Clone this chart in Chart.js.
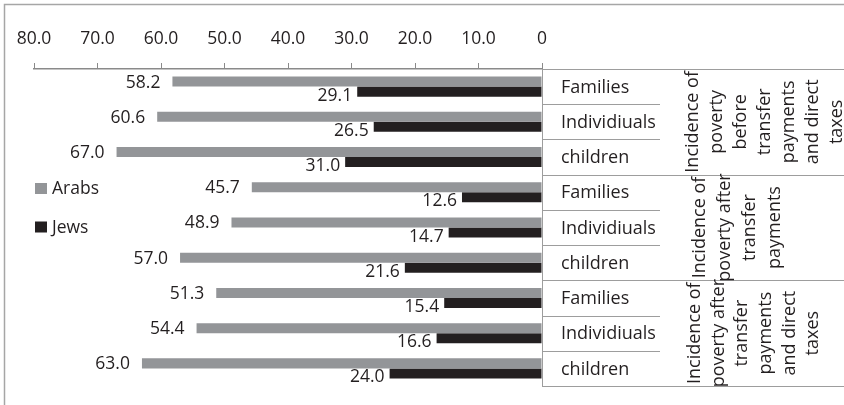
<!DOCTYPE html>
<html>
<head>
<meta charset="utf-8">
<script src="https://cdn.jsdelivr.net/npm/chart.js@4"></script>
<style>
  html, body { margin:0; padding:0; background:#fff; }
  #wrap { width:844px; height:405px; position:relative; }
</style>
</head>
<body>
<div id="wrap"><canvas id="povertyChart"></canvas></div>
<script>
// rows, top to bottom
const rowLabels = ['Families','Individiuals','children','Families','Individiuals','children','Families','Individiuals','children'];
const arabs = [58.2, 60.6, 67.0, 45.7, 48.9, 57.0, 51.3, 54.4, 63.0];
const jews  = [29.1, 26.5, 31.0, 12.6, 14.7, 21.6, 15.4, 16.6, 24.0];
const seriesNames = ['Arabs', 'Jews'];
const groupLabels = [
  ['Incidence of','poverty','before','transfer','payments','and direct','taxes'],
  ['Incidence of','poverty after','transfer','payments'],
  ['Incidence of','poverty after','transfer','payments','and direct','taxes']
];

const FONT = "'Open Sans', sans-serif";
const TXT = '#231f20';
const GRAY = '#939598';
const BLACK = '#231f20';
const LINE = '#9d9d9d';

// value labels next to bar ends
const valueLabels = {
  id:'valueLabels',
  afterDatasetsDraw(chart){
    const ctx = chart.ctx;
    ctx.save();
    ctx.font = '17.5px ' + FONT;
    ctx.fillStyle = TXT;
    ctx.textAlign = 'right';
    ctx.textBaseline = 'middle';
    chart.data.datasets.forEach((ds, di) => {
      chart.getDatasetMeta(di).data.forEach((el, i) => {
        const v = ds.data[i].toFixed(1);
        if (di === 0) ctx.fillText(v, el.x - 12, el.y + 1);
        else ctx.fillText(v, el.x - 5, el.y + 4);
      });
    });
    ctx.restore();
  }
};

// frame, legend, right hand table
const decor = {
  id:'decor',
  afterDraw(chart){
    const ctx = chart.ctx, a = chart.chartArea, y = chart.scales.y;
    const W = chart.width, H = chart.height;
    ctx.save();
    // outer frame (cropped)
    ctx.strokeStyle = '#a6a6a6'; ctx.lineWidth = 1.5;
    ctx.beginPath(); ctx.moveTo(4.5, H); ctx.lineTo(4.5, 4.5); ctx.lineTo(W, 4.5); ctx.stroke();

    // legend
    const cols = [GRAY, BLACK];
    const ly = [188.5, 227];
    ctx.font = '17.5px ' + FONT; ctx.textBaseline = 'middle'; ctx.textAlign = 'left';
    seriesNames.forEach((n, i) => {
      ctx.fillStyle = cols[i];
      ctx.fillRect(35, ly[i] - 5.5, 12, 11);
      ctx.fillStyle = TXT;
      ctx.fillText(n, 52, ly[i] + 1);
    });

    // table
    const step = (y.getPixelForValue(1) - y.getPixelForValue(0));
    const edge = i => y.getPixelForValue(i) - step / 2;
    const x0 = a.right, xRow = 660;
    ctx.strokeStyle = LINE; ctx.lineWidth = 1;
    ctx.beginPath();
    ctx.moveTo(x0 + 0.5, a.top); ctx.lineTo(x0 + 0.5, a.bottom);
    for (let i = 0; i <= rowLabels.length; i++) {
      const yy = Math.round(edge(i)) + 0.5;
      ctx.moveTo(x0, yy);
      ctx.lineTo(i % 3 === 0 ? W : xRow, yy);
    }
    ctx.stroke();

    ctx.fillStyle = TXT;
    ctx.font = '18px ' + FONT; ctx.textAlign = 'left'; ctx.textBaseline = 'middle';
    rowLabels.forEach((l, i) => ctx.fillText(l, 561, y.getPixelForValue(i) + 1));

    const firstX = [693, 700, 695], lineStep = [24, 25, 23.6];
    groupLabels.forEach((lines, g) => {
      const yc = (edge(g * 3) + edge(g * 3 + 3)) / 2;
      lines.forEach((t, k) => {
        ctx.save();
        ctx.translate(firstX[g] + k * lineStep[g], yc);
        ctx.rotate(-Math.PI / 2);
        ctx.textAlign = 'center'; ctx.textBaseline = 'middle';
        ctx.fillText(t, 0, 0);
        ctx.restore();
      });
    });
    ctx.restore();
  }
};

new Chart(document.getElementById('povertyChart'), {
  type:'bar',
  data:{
    labels: rowLabels,
    datasets:[
      { label: seriesNames[0], data: arabs, backgroundColor: GRAY, borderWidth: 0 },
      { label: seriesNames[1], data: jews, backgroundColor: BLACK, borderWidth: 0 }
    ]
  },
  options:{
    indexAxis:'y',
    responsive:true,
    maintainAspectRatio:false,
    animation:false,
    layout:{ padding:{ left:34, right:302, top:0, bottom:19 } },
    datasets:{ bar:{ categoryPercentage:0.57, barPercentage:1 } },
    plugins:{ legend:{ display:false }, tooltip:{ enabled:false } },
    scales:{
      x:{
        position:'top', reverse:true, min:0, max:80,
        afterFit: s => { s.height = 69; },
        ticks:{ stepSize:10, padding:13, color:TXT, font:{ family:FONT, size:17.5 },
          callback: v => v === 0 ? '0' : v.toFixed(1) },
        grid:{ drawOnChartArea:false, drawTicks:true, tickLength:6, color:'#8a8a8a' },
        border:{ display:true, color:'#8a8a8a', width:1.5 }
      },
      y:{ display:false }
    }
  },
  plugins:[valueLabels, decor]
});
</script>
</body>
</html>
